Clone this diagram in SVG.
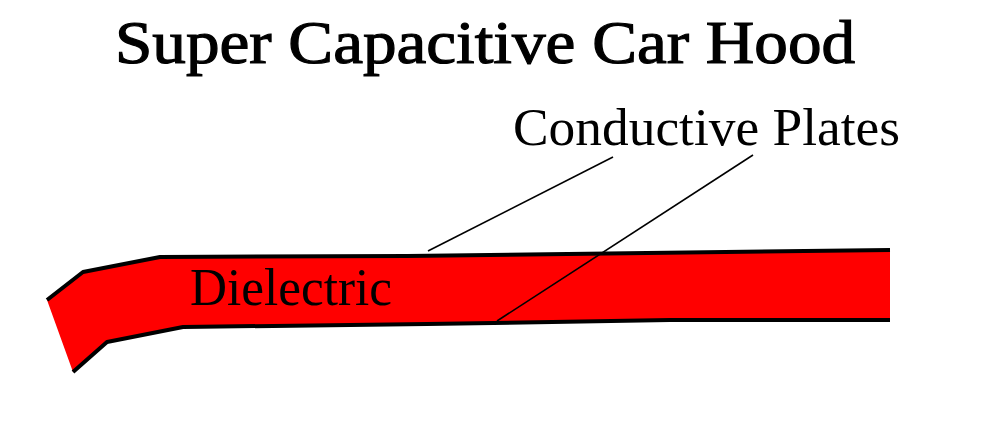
<svg xmlns="http://www.w3.org/2000/svg" width="1000" height="435" viewBox="0 0 1000 435">
<style>
.t{font-family:"Liberation Serif","Times New Roman",serif;fill:#000}
.edge{fill:none;stroke:#000;stroke-width:4;stroke-linejoin:round}
.lead{fill:none;stroke:#000;stroke-width:1.6}
</style>
<rect width="1000" height="435" fill="#fff"/>
<text class="t" x="115" y="63" font-size="62" stroke="#000" stroke-width="1.2" textLength="740" lengthAdjust="spacingAndGlyphs">Super Capacitive Car Hood</text>
<g id="hood">
<polygon fill="#ff0000" points="47,300 83,272 160,257 407,256 647,253 890,250 890,320 670,320 427,324 183,327 107,342 73,372"/>
<polyline class="edge" points="47,300 83,272 160,257 407,256 647,253 890,250"/>
<polyline class="edge" points="890,320 670,320 427,324 183,327 107,342 73,372"/>
<text class="t" x="190" y="305" font-size="52" textLength="202" lengthAdjust="spacingAndGlyphs">Dielectric</text>
</g>
<g id="label">
<text class="t" x="513" y="145" font-size="52" textLength="387" lengthAdjust="spacingAndGlyphs">Conductive Plates</text>
</g>
<g id="connectors">
<line class="lead" x1="613" y1="157" x2="428" y2="251"/>
<line class="lead" x1="753" y1="155" x2="497" y2="321"/>
</g>
</svg>
